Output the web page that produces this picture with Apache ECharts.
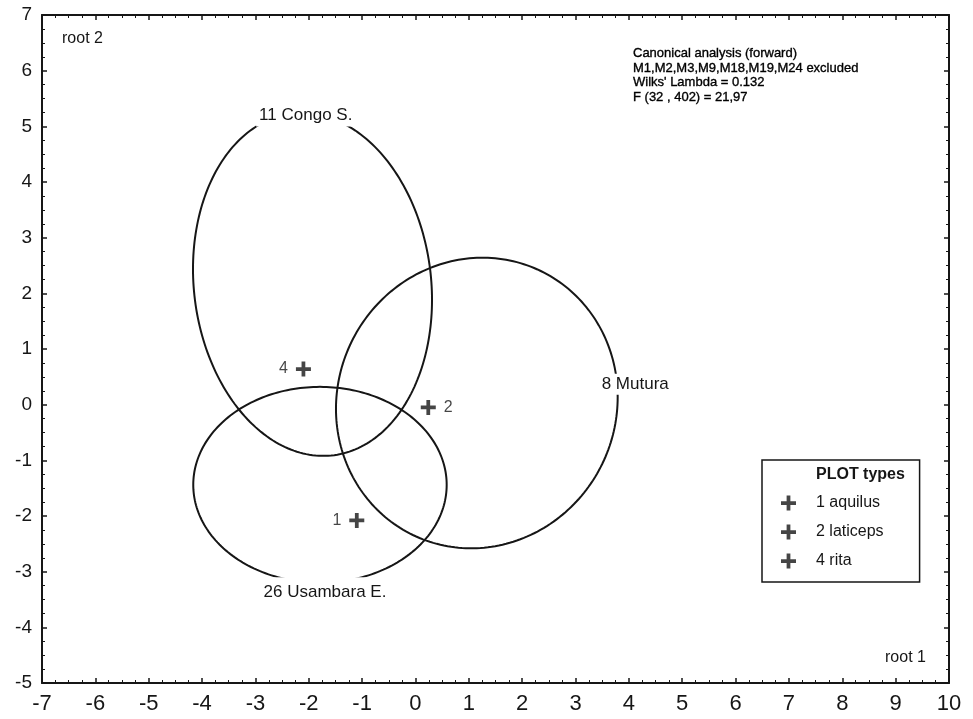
<!DOCTYPE html>
<html>
<head>
<meta charset="utf-8">
<script src="https://cdn.jsdelivr.net/npm/echarts@6/dist/echarts.min.js"></script>
<style>
html,body{margin:0;padding:0;background:#fff;}
#chart{width:973px;height:719px;}
</style>
</head>
<body>
<div id="chart"></div>
<script>
// ---- data ----
const groupNames   = ['11 Congo S.', '26 Usambara E.', '8 Mutura'];
const groupCenterX = [-1.93, -1.79, 1.15];
const groupCenterY = [2.16, -1.44, 0.03];
const groupHalfX   = [2.24, 2.375, 2.64];
const groupHalfY   = [3.08, 1.76, 2.61];
const groupCorr    = [-0.09, 0.0, 0.04];
const groupLabelAt = ['top', 'bottom', 'right'];

const typeIds   = ['1', '2', '4'];
const typeNames = ['aquilus', 'laticeps', 'rita'];
const typeX     = [-1.10, 0.24, -2.10];
const typeY     = [-2.08, -0.05, 0.64];
const typeLabelSide = ['left', 'right', 'left'];

const xRange = [-7, 10];
const yRange = [-5, 7];
const xAxisTitle = 'root 1';
const yAxisTitle = 'root 2';
const annotationLines = [
  'Canonical analysis (forward)',
  'M1,M2,M3,M9,M18,M19,M24 excluded',
  "Wilks' Lambda = 0.132",
  'F (32 , 402) = 21,97'
];
const legendTitle = 'PLOT types';

// ---- styling ----
const FONT = '"Liberation Sans", Arial, Helvetica, sans-serif';
const INK = '#161616';
const PLUS = 'path://M5.25,0H8.75V5.25H14V8.75H8.75V14H5.25V8.75H0V5.25H5.25Z';

function axisBase(pos, showLabel, fs, isX) {
  return {
    type: 'value',
    position: pos,
    min: isX ? xRange[0] : yRange[0],
    max: isX ? xRange[1] : yRange[1],
    interval: 1,
    axisLine: {show: true, onZero: false, lineStyle: {color: INK, width: 2}},
    axisTick: {show: true, inside: true, length: 5, lineStyle: {color: INK, width: 1.5}},
    minorTick: {show: true, splitNumber: 4, length: 3, lineStyle: {color: INK, width: 1}},
    axisLabel: {show: showLabel, fontSize: fs, color: INK, fontFamily: FONT, margin: 10},
    splitLine: {show: false}
  };
}

const ellipseData = groupNames.map((n, i) => [groupCenterX[i], groupCenterY[i], groupHalfX[i], groupHalfY[i], groupCorr[i], i]);

const series = [{
  type: 'custom',
  name: 'ellipses',
  coordinateSystem: 'cartesian2d',
  data: ellipseData,
  encode: {x: 0, y: 1},
  silent: true,
  z: 2,
  renderItem: function (params, api) {
    const cx = api.value(0), cy = api.value(1), rx = api.value(2), ry = api.value(3), rho = api.value(4);
    const idx = api.value(5);
    const s = Math.sqrt(1 - rho * rho);
    const pts = [];
    const N = 240;
    for (let k = 0; k < N; k++) {
      const t = 2 * Math.PI * k / N;
      pts.push(api.coord([cx + rx * Math.cos(t), cy + ry * (rho * Math.cos(t) + s * Math.sin(t))]));
    }
    let anchor, tx, ty, align = 'center', pad = [2, 3];
    const where = groupLabelAt[idx];
    if (where === 'top') {
      anchor = api.coord([cx + rx * rho, cy + ry]);
      tx = anchor[0] + 4; ty = anchor[1] + 2; pad = [2, 3, 4, 3];
    } else if (where === 'bottom') {
      anchor = api.coord([cx - rx * rho, cy - ry]);
      tx = anchor[0] + 5; ty = anchor[1] + 9.5; pad = [11, 4, 2, 4];
    } else {
      anchor = api.coord([cx + rx, cy + ry * rho]);
      tx = anchor[0] - 19; ty = anchor[1] - 13; align = 'left';
    }
    return {
      type: 'group',
      children: [
        {type: 'polygon', shape: {points: pts}, style: {fill: 'none', stroke: INK, lineWidth: 2}},
        {type: 'text', x: tx, y: ty, z2: 10, style: {
          text: groupNames[idx], font: '17px ' + FONT, fill: INK,
          align: align, verticalAlign: 'middle',
          backgroundColor: '#fff', padding: pad
        }}
      ]
    };
  }
}];

typeIds.forEach((id, i) => {
  series.push({
    type: 'scatter',
    name: id + ' ' + typeNames[i],
    data: [[typeX[i], typeY[i]]],
    symbol: PLUS,
    symbolSize: 15,
    z: 5,
    itemStyle: {color: INK},
    label: {
      show: true, position: typeLabelSide[i], distance: 8,
      formatter: id, fontSize: 16, color: INK, fontFamily: FONT
    },
    emphasis: {disabled: true}
  });
});

const chart = echarts.init(document.getElementById('chart'), null, {renderer: 'canvas'});
chart.setOption({
  animation: false,
  backgroundColor: '#fff',
  grid: {left: 42, right: 24, top: 15, bottom: 36, containLabel: false},
  xAxis: [axisBase('bottom', true, 22, true), axisBase('top', false, 22, true)],
  yAxis: [axisBase('left', true, 19, false), axisBase('right', false, 19, false)],
  title: {
    text: annotationLines.join('\n'),
    left: 633, top: 46, padding: 0,
    textStyle: {fontSize: 13, fontWeight: 'normal', color: '#000', fontFamily: FONT, lineHeight: 14.7,
      textBorderColor: '#000', textBorderWidth: 0.35}
  },
  legend: {
    orient: 'vertical',
    left: 762, top: 460,
    padding: [35, 36, 13, 19],
    itemGap: 13,
    itemWidth: 15, itemHeight: 15,
    icon: PLUS,
    selectedMode: false,
    borderColor: INK, borderWidth: 1.5,
    backgroundColor: '#fff',
    data: typeIds.map((id, i) => id + ' ' + typeNames[i]),
    textStyle: {fontSize: 16, color: INK, fontFamily: FONT, padding: [0, 0, 0, 15]}
  },
  graphic: [
    {type: 'text', x: 816, y: 475, z: 100, style: {text: legendTitle, font: 'bold 16px ' + FONT, fill: INK, verticalAlign: 'middle'}},
    {type: 'text', x: 62, y: 39, style: {text: yAxisTitle, font: '16px ' + FONT, fill: INK, verticalAlign: 'middle'}},
    {type: 'text', x: 885, y: 658, style: {text: xAxisTitle, font: '16px ' + FONT, fill: INK, verticalAlign: 'middle'}}
  ],
  series: series
});
</script>
</body>
</html>
